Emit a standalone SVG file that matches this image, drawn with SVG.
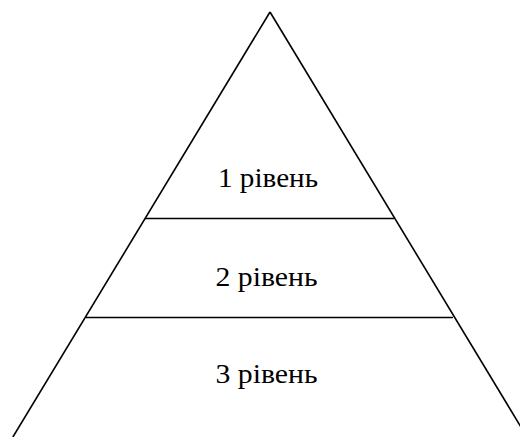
<svg xmlns="http://www.w3.org/2000/svg" width="520" height="437" viewBox="0 0 520 437">
<style>
.ln{stroke:#000;stroke-width:1.6;fill:none}
.t{font-family:"Liberation Serif","Times New Roman",serif;font-size:27px;fill:#000;text-anchor:middle}
</style>
<rect width="520" height="437" fill="#fff"/>
<g id="connectors">
<line class="ln" x1="270" y1="12" x2="12.9" y2="437"/>
<line class="ln" x1="270" y1="12" x2="527" y2="437"/>
<line class="ln" x1="145" y1="218.5" x2="394" y2="218.5"/>
<line class="ln" x1="86" y1="317.5" x2="453" y2="317.5"/>
</g>
<g id="level1"><text class="t" x="268" y="187" textLength="100" lengthAdjust="spacingAndGlyphs">1 рівень</text></g>
<g id="level2"><text class="t" x="266.5" y="286" textLength="102" lengthAdjust="spacingAndGlyphs">2 рівень</text></g>
<g id="level3"><text class="t" x="266.5" y="383" textLength="102" lengthAdjust="spacingAndGlyphs">3 рівень</text></g>
</svg>
